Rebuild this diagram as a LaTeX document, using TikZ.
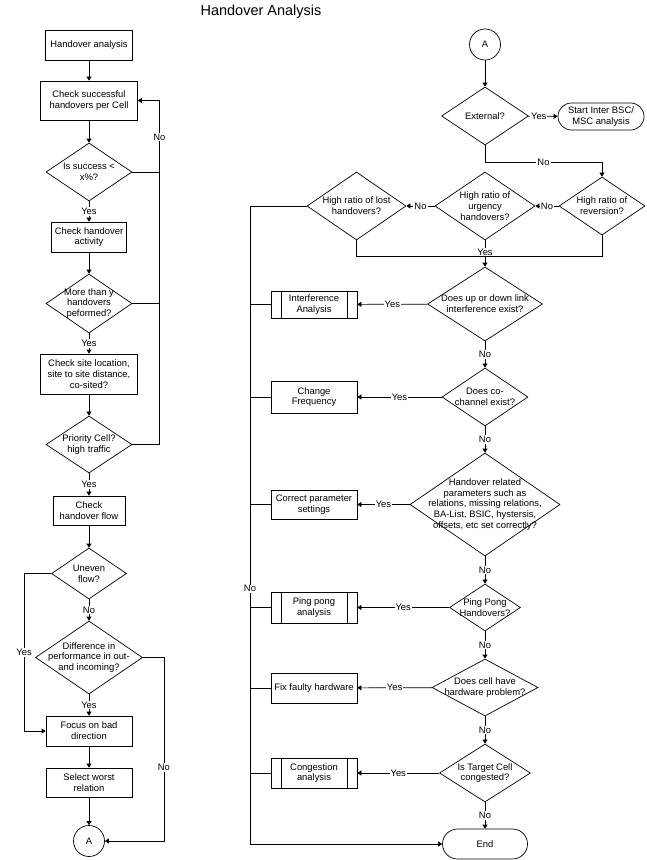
\documentclass[tikz,border=0pt]{standalone}
\usepackage{fontspec}
\setmainfont{Liberation Sans}
\usetikzlibrary{shapes.geometric,shapes.misc,arrows.meta}

\begin{document}
\begin{tikzpicture}[x=1pt,y=-1pt,line width=0.7pt,
  font=\fontsize{9.4}{10.8}\selectfont,
  sz/.style 2 args={minimum width=#1,minimum height=#2},
  box/.style={draw,rectangle,inner sep=0pt,align=center},
  subbox/.style={box,path picture={
    \draw ([xshift=10pt]path picture bounding box.north west) -- ([xshift=10pt]path picture bounding box.south west);
    \draw ([xshift=-10pt]path picture bounding box.north east) -- ([xshift=-10pt]path picture bounding box.south east);}},
  dec/.style={draw,diamond,inner sep=0pt},
  term/.style={draw,rounded rectangle,inner sep=0pt,align=center},
  conn/.style={draw,circle,inner sep=0pt,minimum size=31pt},
  arr/.style={-{Triangle[length=4pt,width=5pt]}},
  lbl/.style={fill=white,inner sep=1pt}]
  \useasboundingbox (0,0) rectangle (646,860);
  \node[font=\fontsize{14.5}{16}\selectfont] (title) at (261,12) {Handover Analysis};

  % left column
  \node[box,sz={87}{30}] (ha) at (89,45) {Handover analysis};
  \node[box,sz={97}{39}] (chk) at (89,100.5) {Check successful\\handovers per Cell};
  \node[dec,sz={86}{58},label={[align=center]center:{Is success <\\x\%?}}] (d1) at (89,172) {};
  \node[box,sz={75}{30}] (act) at (89,237) {Check handover\\activity};
  \node[dec,sz={86}{59},label={[align=center]center:{More than y\\handovers\\peformed?}}] (d2) at (89,303.5) {};
  \node[box,sz={97}{40}] (site) at (89,374) {Check site location,\\site to site distance,\\co-sited?};
  \node[dec,sz={86}{57},label={[align=center]center:{Priority Cell?\\high traffic}}] (d3) at (89,444.5) {};
  \node[box,sz={72}{29}] (flow) at (89,510.5) {Check\\handover flow};
  \node[dec,sz={75}{51},label={[align=center]center:{Uneven\\flow?}}] (d4) at (89,573.5) {};
  \node[dec,sz={107}{73},label={[align=center]center:{Difference in\\performance in out-\\and incoming?}}] (d5) at (89,657.5) {};
  \node[box,sz={86}{30}] (focus) at (89,731) {Focus on bad\\direction};
  \node[box,sz={86}{29}] (worst) at (89,782.5) {Select worst\\relation};
  \node[conn] (ca) at (89,841) {A};

  \draw[arr] (ha) -- (chk);
  \draw[arr] (chk) -- (d1);
  \draw[arr] (d1) -- node[lbl]{Yes} (act);
  \draw[arr] (act) -- (d2);
  \draw[arr] (d2) -- node[lbl]{Yes} (site);
  \draw[arr] (site) -- (d3);
  \draw[arr] (d3) -- node[lbl]{Yes} (flow);
  \draw[arr] (flow) -- (d4);
  \draw[arr] (d4) -- node[lbl]{No} (d5);
  \draw[arr] (d5) -- node[lbl]{Yes} (focus);
  \draw[arr] (focus) -- (worst);
  \draw[arr] (worst) -- (ca);
  \draw[arr] (d3.east) -- ++(27,0) |- node[lbl,pos=0.447]{No} (chk.east);
  \draw (d1.east) -- ++(27,0);
  \draw (d2.east) -- ++(27,0);
  \draw[arr] (d4.west) -- ++(-27,0) |- node[lbl,pos=0.25]{Yes} (focus.west);
  \draw[arr] (d5.east) -- ++(21,0) |- node[lbl,pos=0.3]{No} (ca.east);

  % right column
  \node[conn] (cb) at (485,44.5) {A};
  \node[dec,sz={87}{58},label={center:External?}] (ext) at (485,116) {};
  \node[term,sz={86}{27}] (inter) at (601,116.5) {Start Inter BSC/\\MSC analysis};
  \node[dec,sz={86}{58},label={[align=center]center:{High ratio of\\reversion?}}] (rev) at (602,206) {};
  \node[dec,sz={100}{68},label={[align=center]center:{High ratio of\\urgency\\handovers?}}] (urg) at (485,206) {};
  \node[dec,sz={99}{68},label={[align=center]center:{High ratio of lost\\handovers?}}] (lost) at (356.5,206) {};
  \node[dec,sz={115}{74},label={[align=center]center:{Does up or down link\\interference exist?}}] (intf) at (485,304) {};
  \node[subbox,sz={86}{27}] (ia) at (314,304.5) {Interference\\Analysis};
  \node[dec,sz={86}{58},label={[align=center]center:{Does co-\\channel exist?}}] (cochan) at (485,397) {};
  \node[box,sz={86}{32}] (cf) at (314,397) {Change\\Frequency};
  \node[dec,sz={150}{103},label={[align=center]center:{Handover related\\parameters such as\\relations, missing relations,\\BA-List, BSIC, hystersis,\\offsets, etc set correctly?}}] (param) at (485,504.5) {};
  \node[box,sz={86}{29}] (cps) at (314,504.5) {Correct parameter\\settings};
  \node[dec,sz={71}{47},label={[align=center]center:{Ping Pong\\Handovers?}}] (pp) at (485,607.5) {};
  \node[subbox,sz={86}{31}] (ppa) at (314,607.5) {Ping pong\\analysis};
  \node[dec,sz={106}{57},label={[align=center]center:{Does cell have\\hardware problem?}}] (hw) at (485,687.5) {};
  \node[box,sz={86}{30}] (fix) at (314,688) {Fix faulty hardware};
  \node[dec,sz={91}{58},label={[align=center]center:{Is Target Cell\\congested?}}] (tc) at (485,773) {};
  \node[subbox,sz={86}{30}] (cga) at (314,773) {Congestion\\analysis};
  \node[term,sz={85}{30}] (end) at (485,844) {End};
  \coordinate (trunk) at (250,206);

  \draw[arr] (cb) -- (ext);
  \draw[arr] (ext) -- node[lbl,pos=0.35]{Yes} (inter);
  \draw[arr] (ext.south) -- ++(0,17) -| node[lbl,pos=0.25]{No} (rev);
  \draw[arr] (rev) -- node[lbl]{No} (urg);
  \draw[arr] (urg) -- node[lbl]{No} (lost);
  \draw (lost.south) -- ++(0,16) -| (rev.south);
  \draw[arr] (urg) -- node[lbl,pos=0.45]{Yes} (intf);
  \draw[arr] (intf) -- node[lbl]{Yes} (ia);
  \draw[arr] (intf) -- node[lbl]{No} (cochan);
  \draw[arr] (cochan) -- node[lbl]{Yes} (cf);
  \draw[arr] (cochan) -- node[lbl]{No} (param);
  \draw[arr] (param) -- node[lbl]{Yes} (cps);
  \draw[arr] (param) -- node[lbl]{No} (pp);
  \draw[arr] (pp) -- node[lbl]{Yes} (ppa);
  \draw[arr] (pp) -- node[lbl]{No} (hw);
  \draw[arr] (hw) -- node[lbl]{Yes} (fix);
  \draw[arr] (hw) -- node[lbl]{No} (tc);
  \draw[arr] (tc) -- node[lbl]{Yes} (cga);
  \draw[arr] (tc) -- node[lbl]{No} (end);
  \draw[arr] (lost.west) -- (trunk) |- node[lbl,pos=0.3]{No} (end.west);
  \foreach \n in {ia,cf,cps,ppa,fix,cga}
    \draw (\n.west) -- (\n.west -| trunk);
\end{tikzpicture}
\end{document}
